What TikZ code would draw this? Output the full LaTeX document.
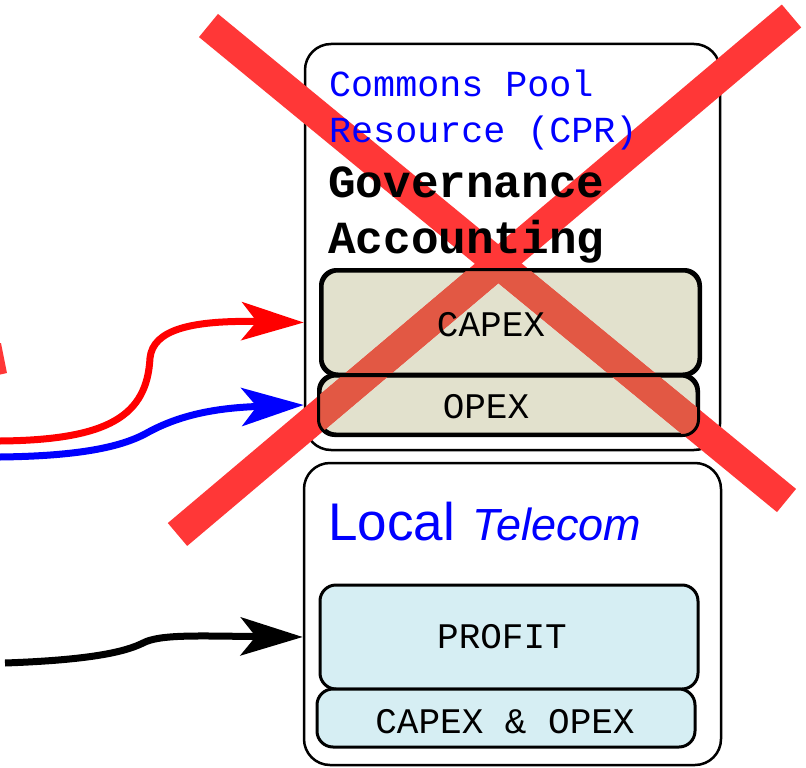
\documentclass[tikz,border=0pt]{standalone}
\usepackage{fontspec}
\setmonofont{Liberation Mono}
\setsansfont{Liberation Sans}
\usetikzlibrary{arrows.meta,positioning,calc}
\definecolor{capexfill}{RGB}{226,225,205}
\definecolor{profitfill}{RGB}{214,238,243}
\definecolor{crossred}{RGB}{255,55,55}
\definecolor{crossdark}{RGB}{226,88,68}

\begin{document}
\begin{tikzpicture}[x=1pt,y=-1pt,
	outerbox/.style={draw,line width=2.5pt,rounded corners=26pt,inner sep=0pt},
	costbox/.style={draw,line width=3pt,rounded corners=16pt,inner sep=0pt},
	boxtext/.style={inner sep=0pt,font=\ttfamily\fontsize{36}{36}\selectfont},
	cprtext/.style={anchor=base west,inner sep=0pt,text=blue,font=\ttfamily\fontsize{36.7}{36.7}\selectfont},
	govtext/.style={anchor=base west,inner sep=0pt,font=\ttfamily\bfseries\fontsize{46}{46}\selectfont},
	flow/.style={line width=7pt,-{Stealth[length=62pt,width=38pt,inset=15pt]}},
	cross/.style={line width=30pt,crossred}]

\useasboundingbox (0,0) rectangle (806,768);

% common pool box
\node[outerbox,minimum width=415pt,minimum height=406pt] (cpr) at (512.5,247) {};
\node[costbox,fill=capexfill,minimum width=377pt,minimum height=103pt] (capex) at (510.5,322.5) {};
\node[costbox,fill=capexfill,minimum width=377pt,minimum height=58pt] (opex) at (508.5,405) {};

% local telecom box
\node[outerbox,minimum width=417pt,minimum height=302pt] (telecom) at (512.5,614) {};
\node[costbox,fill=profitfill,minimum width=378pt,minimum height=104pt] (profit) at (509,637) {};
\node[costbox,fill=profitfill,minimum width=378pt,minimum height=58pt] (capopex) at (506,718) {};

% the cross
\draw[cross] (208.5,25.5) -- (786.5,500.5);
\draw[cross] (791.5,16) -- (177.5,534.5);
\fill[crossred] (-2,343) -- (1,343) -- (7,373) -- (-2,375) -- cycle;
\begin{scope}
\clip[rounded corners=16pt] (capex.north west) rectangle (capex.south east);
\draw[cross,crossdark] (208.5,25.5) -- (786.5,500.5);
\draw[cross,crossdark] (791.5,16) -- (177.5,534.5);
\end{scope}
\begin{scope}
\clip[rounded corners=16pt] (opex.north west) rectangle (opex.south east);
\draw[cross,crossdark] (208.5,25.5) -- (786.5,500.5);
\draw[cross,crossdark] (791.5,16) -- (177.5,534.5);
\end{scope}
\draw[line width=3pt,rounded corners=16pt] (capex.north west) rectangle (capex.south east);
\draw[line width=3pt,rounded corners=16pt] (opex.north west) rectangle (opex.south east);

% texts
\node[cprtext] (cprline) at (329,96) {Commons Pool};
\node[cprtext] (resline) at (329,142) {Resource (CPR)};
\node[govtext] (govline) at (328,197) {Governance};
\node[govtext] (accline) at (328,253) {Accounting};
\node[boxtext] (capexlabel) at (491,325) {CAPEX};
\node[boxtext] (opexlabel) at (486,407) {OPEX};
\node[anchor=base west,inner sep=0pt,text=blue,font=\sffamily] (localname) at (328,540)
	{\fontsize{53}{53}\selectfont Local\hspace{18pt}\fontsize{45}{45}\selectfont\itshape Telecom};
\node[boxtext] (profitlabel) at (502,637) {PROFIT};
\node[boxtext] (capopexlabel) at (505,722) {CAPEX \& OPEX};

% flows
\coordinate (redin) at (0,441);
\coordinate (bluein) at (0,457);
\coordinate (blackin) at (5,663);
\draw[flow,red] (redin) .. controls (110,440) and (147,415) .. (150,358)
	.. controls (153,330) and (190,320) .. (cpr.west |- capex.center);
\draw[flow,blue] (bluein) .. controls (80,456) and (120,447) .. (145,434)
	.. controls (175,417) and (210,408) .. (cpr.west |- opex.center);
\draw[flow,black] (blackin) .. controls (90,660) and (125,652) .. (143,643)
	.. controls (160,634) and (200,636) .. (telecom.west |- profit.center);

\end{tikzpicture}
\end{document}
